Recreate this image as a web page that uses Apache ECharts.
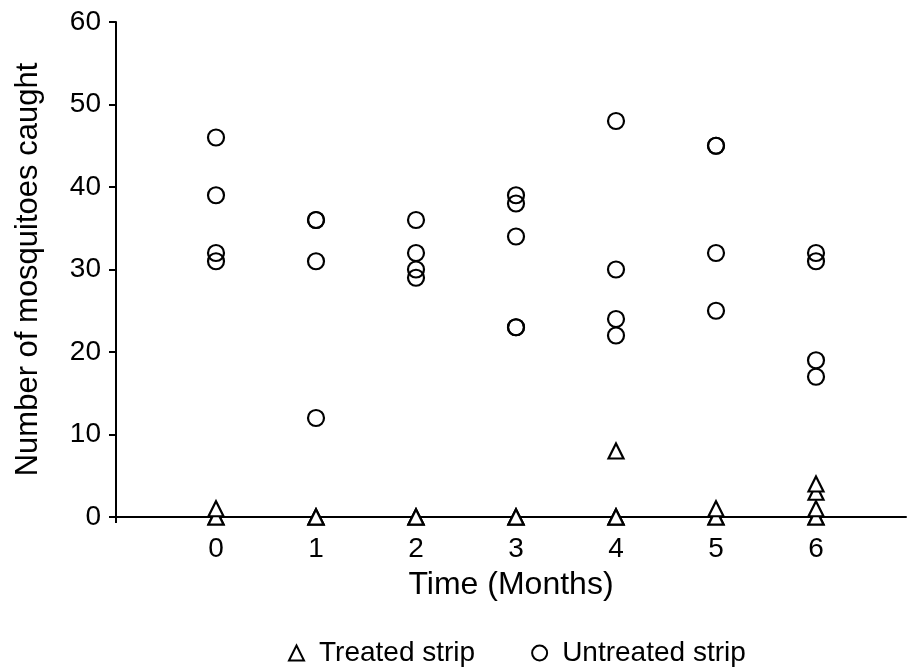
<!DOCTYPE html>
<html>
<head>
<meta charset="utf-8">
<script src="https://cdn.jsdelivr.net/npm/echarts@6/dist/echarts.min.js"></script>
<style>html,body{margin:0;padding:0;background:#fff;}#c{width:907px;height:667px;}</style>
</head>
<body>
<div id="c"></div>
<script>
var months = [0, 1, 2, 3, 4, 5, 6];
var xTickLabels = ['0', '1', '2', '3', '4', '5', '6'];
var yTickValues = [0, 10, 20, 30, 40, 50, 60];
// values per month
var treated = [
  [0, 0, 1],
  [0, 0, 0],
  [0, 0, 0],
  [0, 0, 0],
  [0, 0, 0, 8],
  [0, 0, 1],
  [0, 0, 1, 3, 4]
];
var untreated = [
  [46, 39, 32, 31],
  [36, 36, 31, 12],
  [36, 32, 30, 29],
  [39, 38, 34, 23, 23],
  [48, 30, 24, 22],
  [45, 45, 32, 25],
  [32, 31, 19, 17]
];

function pairs(groups) {
  var out = [];
  groups.forEach(function (vals, i) {
    vals.forEach(function (v) { out.push([months[i], v]); });
  });
  return out;
}

var font = 'Liberation Sans, Arial, Helvetica, sans-serif';
var chart = echarts.init(document.getElementById('c'), null, { renderer: 'canvas' });
chart.setOption({
  animation: false,
  backgroundColor: '#fff',
  grid: { left: 116, top: 22, width: 790, height: 495, containLabel: false },
  xAxis: {
    type: 'value',
    min: -1,
    max: 6.9,
    interval: 1,
    name: 'Time (Months)',
    nameLocation: 'middle',
    nameGap: 52,
    nameTextStyle: { fontFamily: font, fontSize: 32, color: '#000' },
    axisLine: { show: true, onZero: true, lineStyle: { color: '#000', width: 2 } },
    axisTick: { show: true, customValues: [-1], length: 6, inside: false, lineStyle: { color: '#000', width: 2 } },
    axisLabel: {
      customValues: months,
      formatter: function (v) { var i = months.indexOf(v); return i >= 0 ? xTickLabels[i] : ''; },
      fontFamily: font, fontSize: 28, color: '#000', margin: 18
    },
    splitLine: { show: false }
  },
  yAxis: {
    type: 'value',
    min: 0,
    max: 60,
    interval: 10,
    name: 'Number of mosquitoes caught',
    nameLocation: 'middle',
    nameGap: 72,
    nameTextStyle: { fontFamily: font, fontSize: 31, color: '#000' },
    axisLine: { show: true, onZero: false, lineStyle: { color: '#000', width: 2 } },
    axisTick: { show: true, length: 7, inside: false, lineStyle: { color: '#000', width: 2 } },
    axisLabel: {
      customValues: yTickValues,
      fontFamily: font, fontSize: 28, color: '#000', margin: 15
    },
    splitLine: { show: false }
  },
  legend: {
    top: 634,
    left: 283,
    itemGap: 56,
    itemWidth: 15,
    itemHeight: 15,
    textStyle: { fontFamily: font, fontSize: 28, color: '#000', padding: [0, 0, 0, 10] },
    data: [
      { name: 'Treated strip', icon: 'triangle' },
      { name: 'Untreated strip', icon: 'circle' }
    ]
  },
  series: [
    {
      name: 'Treated strip',
      type: 'scatter',
      symbol: 'triangle',
      symbolSize: 15,
      itemStyle: { color: '#fff', borderColor: '#000', borderWidth: 2.2, opacity: 1 },
      data: pairs(treated),
      z: 3
    },
    {
      name: 'Untreated strip',
      type: 'scatter',
      symbol: 'circle',
      symbolSize: 16,
      itemStyle: { color: 'rgba(255,255,255,0)', borderColor: '#000', borderWidth: 2.2, opacity: 1 },
      data: pairs(untreated),
      z: 3
    }
  ]
});
</script>
</body>
</html>
